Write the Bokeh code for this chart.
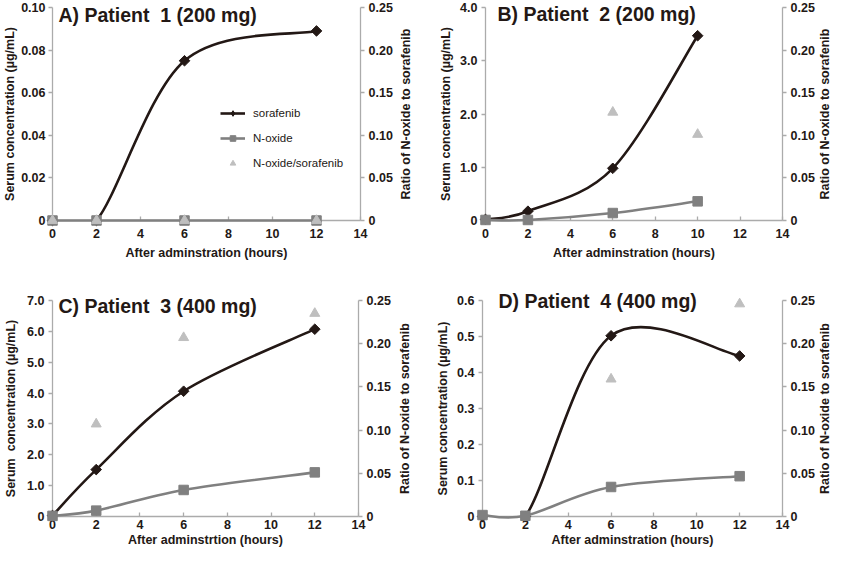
import math
from bokeh.plotting import figure
from bokeh.models import Range1d, LinearAxis, FixedTicker, Legend, LegendItem, ColumnDataSource
from bokeh.core.properties import value
from bokeh.layouts import row, column
from bokeh.embed import file_html
from bokeh.resources import INLINE

NAN = float("nan")

# ---------------- data ----------------
hours_A = [0, 2, 6, 12]
sorafenib_A = [0.0, 0.0, 0.075, 0.089]
noxide_A = [0.0, 0.0, 0.0, 0.0]
ratio_A = [0.0, 0.0, 0.0, 0.0]

hours_B = [0, 2, 6, 10]
sorafenib_B = [0.02, 0.175, 0.98, 3.47]
noxide_B = [0.01, 0.01, 0.14, 0.36]
ratio_B = [NAN, NAN, 0.127, 0.101]

hours_C = [0, 2, 6, 12]
sorafenib_C = [0.03, 1.52, 4.06, 6.07]
noxide_C = [0.02, 0.19, 0.86, 1.43]
ratio_C = [NAN, 0.107, 0.207, 0.235]

hours_D = [0, 2, 6, 12]
sorafenib_D = [0.0, 0.0, 0.502, 0.446]
noxide_D = [0.004, 0.002, 0.082, 0.112]
ratio_D = [NAN, NAN, 0.159, 0.246]

x_ticks = [0, 2, 4, 6, 8, 10, 12, 14]
x_tick_labels = ["0", "2", "4", "6", "8", "10", "12", "14"]
ratio_ticks = [0.0, 0.05, 0.10, 0.15, 0.20, 0.25]
ratio_tick_labels = ["0", "0.05", "0.10", "0.15", "0.20", "0.25"]
conc_ticks_A = [0.0, 0.02, 0.04, 0.06, 0.08, 0.10]
conc_labels_A = ["0", "0.02", "0.04", "0.06", "0.08", "0.10"]
conc_ticks_B = [0.0, 1.0, 2.0, 3.0, 4.0]
conc_labels_B = ["0", "1.0", "2.0", "3.0", "4.0"]
conc_ticks_C = [0.0, 1.0, 2.0, 3.0, 4.0, 5.0, 6.0, 7.0]
conc_labels_C = ["0", "1.0", "2.0", "3.0", "4.0", "5.0", "6.0", "7.0"]
conc_ticks_D = [0.0, 0.1, 0.2, 0.3, 0.4, 0.5, 0.6]
conc_labels_D = ["0", "0.1", "0.2", "0.3", "0.4", "0.5", "0.6"]

titles = ["A) Patient\u00a0 1 (200 mg)", "B) Patient\u00a0 2 (200 mg)",
          "C) Patient\u00a0 3 (400 mg)", "D) Patient\u00a0 4 (400 mg)"]
x_labels = ["After adminstration (hours)", "After adminstration (hours)",
            "After adminstrtion (hours)", "After adminstration (hours)"]
y_labels = ["Serum concentration (\u00b5g/mL)", "Serum concentration (\u00b5g/mL)",
            "Serum\u00a0 concentration (\u00b5g/mL)", "Serum concentration (\u00b5g/mL)"]
r_labels = ["Ratio of N-oxide to sorafenib"] * 4
legend_labels = ["sorafenib", "N-oxide", "N-oxide/sorafenib"]

# ---------------- style ----------------
FONT = "Liberation Sans"
TXT = "#231815"
BLACK = "#231815"
GRAY = "#808080"
LIGHT = "#bfbfbf"
AXIS = "#ababab"


def smooth(xs, ys):
    """Bezier control points (Excel-like smoothed line) built from the data points."""
    pts = [(x, y) for x, y in zip(xs, ys) if not math.isnan(y)]
    n = len(pts)
    d = {k: [] for k in ("x0", "y0", "x1", "y1", "cx0", "cy0", "cx1", "cy1")}
    for i in range(n - 1):
        p0 = pts[i - 1] if i > 0 else pts[i]
        p1 = pts[i]
        p2 = pts[i + 1]
        p3 = pts[i + 2] if i + 2 < n else pts[i + 1]
        d["x0"].append(p1[0]); d["y0"].append(p1[1])
        d["x1"].append(p2[0]); d["y1"].append(p2[1])
        d["cx0"].append(p1[0] + (p2[0] - p0[0]) / 6.0)
        d["cy0"].append(p1[1] + (p2[1] - p0[1]) / 6.0)
        d["cx1"].append(p2[0] - (p3[0] - p1[0]) / 6.0)
        d["cy1"].append(p2[1] - (p3[1] - p1[1]) / 6.0)
    return ColumnDataSource(d)


def style_axis(ax, ticks, labels, tick_in=0, tick_out=4, label_standoff=4, axis_standoff=4):
    ax.ticker = FixedTicker(ticks=ticks)
    ax.major_label_overrides = {t: l for t, l in zip(ticks, labels)}
    ax.axis_line_color = AXIS
    ax.axis_line_width = 1.3
    ax.major_tick_line_color = AXIS
    ax.major_tick_line_width = 1.3
    ax.major_tick_in = tick_in
    ax.major_tick_out = tick_out
    ax.minor_tick_line_color = None
    ax.major_label_text_font = FONT
    ax.major_label_text_font_style = "bold"
    ax.major_label_text_font_size = "12.5px"
    ax.major_label_text_color = TXT
    ax.major_label_standoff = label_standoff
    ax.axis_label_text_font = FONT
    ax.axis_label_text_font_style = "bold"
    ax.axis_label_text_font_size = "12.5px"
    ax.axis_label_text_color = TXT
    ax.axis_label_standoff = axis_standoff


def panel(idx, width, height, borders, hours, sora, nox, ratio, ymax, yticks, ylabels,
          title_dx, title_dy, rlabel_dx, x_std, y_std, with_legend=False):
    left, right, top, bottom = borders
    p = figure(width=width, height=height, output_backend="svg", toolbar_location=None,
               x_range=Range1d(0, 14), y_range=Range1d(0, ymax),
               min_border_left=left, min_border_right=right,
               min_border_top=top, min_border_bottom=bottom)
    p.extra_y_ranges = {"ratio": Range1d(0, 0.25)}
    p.xgrid.visible = False
    p.ygrid.visible = False
    p.outline_line_color = None
    p.background_fill_color = "white"
    p.border_fill_color = "white"

    style_axis(p.xaxis[0], x_ticks, x_tick_labels, tick_in=4, tick_out=0,
               label_standoff=x_std[0], axis_standoff=x_std[1])
    p.xaxis[0].axis_label = x_labels[idx]
    style_axis(p.yaxis[0], yticks, ylabels, tick_out=4,
               label_standoff=y_std[0], axis_standoff=y_std[1])
    p.yaxis[0].axis_label = y_labels[idx]
    rax = LinearAxis(y_range_name="ratio")
    style_axis(rax, ratio_ticks, ratio_tick_labels, tick_out=4, label_standoff=4)
    p.add_layout(rax, "right")

    src = ColumnDataSource(dict(hours=hours, sora=sora, nox=nox, ratio=ratio))

    # sorafenib: smoothed line (clipped to the plot area) and diamonds
    p.bezier(x0="x0", y0="y0", x1="x1", y1="y1", cx0="cx0", cy0="cy0", cx1="cx1", cy1="cy1",
             source=smooth(hours, sora), line_color=BLACK, line_width=2.6, line_cap="round")
    p.scatter("hours", "sora", source=src, marker="square", angle=math.pi / 4,
              size=7.5, fill_color=BLACK, line_color=BLACK, level="overlay")
    # N-oxide: smoothed line and squares
    p.bezier(x0="x0", y0="y0", x1="x1", y1="y1", cx0="cx0", cy0="cy0", cx1="cx1", cy1="cy1",
             source=smooth(hours, nox), line_color=GRAY, line_width=2.6, line_cap="round",
             level="overlay")
    r_nox = p.scatter("hours", "nox", source=src, marker="square", size=9.5,
                      fill_color=GRAY, line_color=GRAY, level="overlay")
    # N-oxide / sorafenib ratio: triangles on the right axis
    r_ratio = p.scatter("hours", "ratio", source=src, marker="triangle", size=10,
                        fill_color=LIGHT, line_color=LIGHT, y_range_name="ratio", level="overlay")

    # panel title, anchored at the top-left corner of the plot area
    p.text(x=[p.x_range.start], y=[p.y_range.end], text=[titles[idx]],
           x_offset=title_dx, y_offset=title_dy,
           text_font=value(FONT), text_font_style="bold", text_font_size="19.5px",
           text_color=TXT, text_baseline="middle", text_align="left", level="overlay")
    # right axis title, reading bottom to top
    p.text(x=[p.x_range.end], y=[p.y_range.end / 2], text=[r_labels[idx]],
           x_offset=rlabel_dx, y_offset=0, angle=math.pi / 2,
           text_font=value(FONT), text_font_style="bold", text_font_size="12.5px",
           text_color=TXT, text_baseline="middle", text_align="center", level="overlay")

    if with_legend:
        l_black = p.line(x=[NAN], y=[NAN], line_color=BLACK, line_width=2.6)
        m_black = p.scatter(x=[NAN], y=[NAN], marker="diamond", size=10,
                            fill_color=BLACK, line_color=BLACK)
        l_gray = p.line(x=[NAN], y=[NAN], line_color=GRAY, line_width=2.6)
        legend = Legend(items=[LegendItem(label=legend_labels[0], renderers=[l_black, m_black]),
                               LegendItem(label=legend_labels[1], renderers=[l_gray, r_nox]),
                               LegendItem(label=legend_labels[2], renderers=[r_ratio])],
                        location=(168, 50), padding=0, margin=0, spacing=11,
                        glyph_width=25, glyph_height=14, label_height=14, label_standoff=8,
                        label_text_font=FONT, label_text_font_size="11.5px", label_text_color=TXT,
                        border_line_color=None, background_fill_alpha=0)
        p.add_layout(legend)
    return p


pA = panel(0, 416, 272, (52, 56, 7, 52), hours_A, sorafenib_A, noxide_A, ratio_A,
           0.10, conc_ticks_A, conc_labels_A, 6, 7, 45, (8, 5), (3, 1), with_legend=True)
pB = panel(1, 416, 272, (69, 50, 7, 52), hours_B, sorafenib_B, noxide_B, ratio_B,
           4.0, conc_ticks_B, conc_labels_B, 12, 6, 42, (8, 5), (4, 4))
pC = panel(2, 416, 278, (52, 58, 28, 34), hours_C, sorafenib_C, noxide_C, ratio_C,
           7.0, conc_ticks_C, conc_labels_C, 6, 5, 46, (3, 1), (4, 6))
pD = panel(3, 416, 278, (66, 50, 28, 34), hours_D, sorafenib_D, noxide_D, ratio_D,
           0.6, conc_ticks_D, conc_labels_D, 16, 0, 42, (3, 1), (4, 4))

layout = column(row(pA, pB), row(pC, pD))
open("out.html", "w").write(file_html(layout, INLINE))
